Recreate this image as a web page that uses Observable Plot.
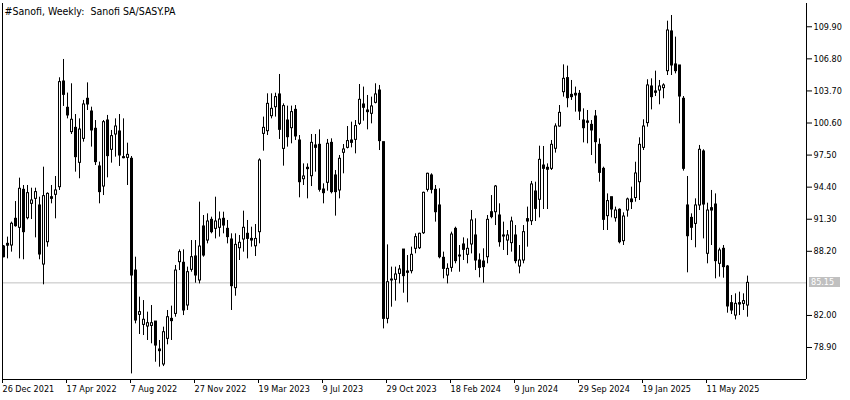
<!DOCTYPE html>
<html><head><meta charset="utf-8">
<script src="https://cdn.jsdelivr.net/npm/d3@7"></script>
<script src="https://cdn.jsdelivr.net/npm/@observablehq/plot@0.6"></script>
<style>
html,body{margin:0;padding:0;background:#fff;}
#chart svg{display:block;}
</style></head><body><div id="chart"></div>
<script>
const title = "#Sanofi, Weekly:  Sanofi SA/SASY.PA";

// weekly candles, first week = 26 Dec 2021
const opens = [
88.66,88.74,88.76,91.34,90.47,94.14,91.40,92.79,93.27,92.63,86.92,89.08,93.43,93.66,94.40,104.61,102.07,99.72,100.13,96.75,
99.07,102.94,101.71,100.04,96.40,94.46,100.84,98.01,99.49,99.78,97.30,97.23,97.14,86.34,82.06,81.09,80.93,80.99,81.41,78.71,
77.26,79.74,81.67,82.15,87.15,87.09,82.96,86.41,87.70,85.38,90.60,89.24,91.24,90.37,90.47,91.34,90.37,89.34,84.64,88.50,
89.34,89.89,89.40,88.69,90.05,99.55,99.81,101.26,102.13,103.36,98.10,100.84,100.10,101.87,98.91,95.17,96.27,95.46,98.43,98.49,
94.17,94.82,98.68,95.53,94.08,97.72,98.20,98.91,98.97,100.52,102.39,101.81,101.49,102.55,103.74,98.75,81.67,85.38,85.44,86.02,
88.37,86.12,86.28,88.44,88.50,89.95,94.14,95.53,94.14,92.63,87.57,85.86,86.60,90.37,87.79,88.86,87.86,88.86,89.73,87.31,
87.21,87.63,91.98,91.98,91.66,89.73,89.24,88.99,89.73,86.73,87.31,91.31,91.11,93.98,93.18,96.49,96.08,96.17,98.11,100.26,
103.58,104.94,103.10,103.42,103.42,100.84,100.75,100.42,101.23,98.49,96.17,91.60,93.43,91.40,92.21,89.18,92.14,93.21,93.35,94.88,
98.20,100.59,104.13,103.65,103.74,103.97,105.61,109.45,106.26,106.16,102.94,92.63,91.43,90.85,92.63,97.85,87.96,92.37,92.72,86.99,
88.44,86.73,83.19,81.99,83.06,83.12,82.96];
const highs = [
88.76,89.57,91.02,93.01,95.27,94.56,94.56,94.30,94.30,93.43,96.33,93.85,94.56,95.43,104.97,106.74,103.49,104.39,101.42,101.00,
102.78,104.48,102.13,100.84,96.82,100.84,101.33,99.88,101.00,101.42,101.00,98.65,97.36,87.63,83.77,83.44,82.32,82.96,81.41,79.58,
80.87,82.48,82.90,86.83,88.34,88.34,86.67,89.24,89.24,92.95,91.66,91.82,91.50,93.43,92.00,91.98,91.18,89.89,89.89,89.73,
92.08,91.18,90.53,90.79,97.14,101.17,103.42,103.42,103.48,105.29,102.45,102.23,102.23,102.29,99.39,96.65,96.65,99.49,99.49,99.94,
94.72,99.01,99.07,96.01,97.46,98.52,100.26,100.68,100.84,104.32,104.07,103.26,103.10,104.39,104.23,98.75,88.82,86.67,86.67,86.83,
88.37,87.79,88.60,89.89,89.95,93.92,95.75,95.69,94.56,94.24,88.12,86.99,90.05,90.53,88.76,89.50,89.40,92.14,91.34,87.95,
88.44,91.66,93.59,94.56,92.79,91.02,90.21,91.50,90.69,88.76,90.69,92.47,94.95,94.88,98.36,98.33,96.65,98.91,100.52,102.29,
106.22,106.10,104.71,104.07,103.74,101.97,101.81,100.84,101.81,99.07,96.33,93.75,93.43,92.47,92.30,91.92,93.34,94.40,96.81,99.17,
100.91,104.78,104.87,105.61,104.71,104.39,110.44,110.99,108.90,106.16,103.16,95.43,91.82,93.27,98.43,98.01,92.85,94.08,93.75,88.50,
88.76,86.83,83.93,84.09,84.25,84.09,85.80];
const lows = [
87.57,87.47,88.12,90.53,87.47,87.38,91.24,91.27,89.50,87.38,84.96,88.60,92.79,91.34,94.08,102.20,101.00,99.49,95.85,95.21,
98.75,101.81,98.27,96.49,92.79,93.59,95.30,96.72,97.30,96.40,97.14,94.56,76.35,81.19,80.16,80.06,79.58,79.26,77.48,77.00,
77.06,79.16,79.58,81.83,86.34,81.99,82.48,86.18,85.12,85.05,87.63,88.92,89.89,89.40,89.57,89.89,88.92,82.48,83.86,87.31,
88.12,87.47,88.60,87.70,88.92,97.88,99.39,101.00,101.17,99.01,96.43,98.27,98.59,98.91,93.37,94.56,93.27,94.46,95.85,93.92,
92.79,94.01,93.75,91.60,93.27,95.69,98.10,98.20,97.62,100.36,100.78,99.94,100.52,102.45,97.94,80.70,81.19,82.80,83.38,85.05,
84.15,83.22,86.02,87.96,88.37,89.83,93.92,93.75,91.02,87.47,85.54,85.05,86.18,86.99,86.18,87.31,86.99,87.95,86.34,85.64,
85.12,86.99,91.34,90.69,88.60,88.28,87.79,88.12,86.99,86.02,86.99,88.60,90.69,91.08,91.43,92.24,92.24,96.01,97.69,100.20,
103.10,102.07,102.78,101.65,100.84,98.68,98.59,97.46,96.65,94.88,90.21,90.21,91.43,91.02,88.92,88.76,91.50,92.24,92.95,93.11,
97.94,100.20,101.87,103.16,102.36,102.94,105.19,105.19,105.35,100.52,95.95,86.12,89.24,88.54,92.14,89.40,86.99,88.76,85.54,85.70,
85.60,82.22,82.09,81.57,81.99,82.48,81.83];
const closes = [
87.63,88.92,90.86,90.63,94.24,90.05,93.82,93.11,93.92,87.89,93.53,93.75,93.27,94.08,104.55,103.32,101.33,100.91,97.30,99.97,
102.39,102.39,99.88,96.82,93.92,100.68,97.40,99.33,100.26,97.46,97.20,97.52,85.86,81.51,82.32,81.58,81.25,81.25,79.09,78.55,
80.38,81.83,81.45,86.34,88.12,82.48,86.18,87.63,85.86,88.66,87.79,91.08,90.05,91.08,91.27,90.69,89.57,84.83,88.82,89.02,
90.47,89.40,89.24,89.40,96.98,100.13,102.45,101.97,103.10,99.94,102.23,99.23,101.65,99.30,94.88,95.43,96.14,98.68,98.20,94.14,
93.82,98.59,93.92,93.92,97.14,98.04,98.85,98.68,100.30,102.84,102.07,101.65,102.20,103.36,98.85,81.67,85.21,85.47,85.96,86.44,
85.80,86.25,87.86,89.57,89.89,93.85,95.69,94.14,91.98,87.63,86.50,86.50,89.82,87.25,87.70,88.34,88.44,91.18,87.31,86.60,
86.67,91.24,91.50,94.46,89.08,89.63,89.73,91.08,87.25,87.31,90.05,91.08,94.66,92.30,97.04,96.17,96.27,98.49,100.26,101.58,
104.87,103.00,103.32,103.26,101.71,100.10,100.62,99.88,98.75,95.78,91.24,93.05,92.24,92.14,89.08,91.56,93.21,92.95,95.72,98.49,
100.26,104.23,103.10,103.52,104.13,104.23,109.54,106.16,105.61,103.16,96.17,89.66,90.47,92.63,98.01,92.72,92.14,92.14,87.25,88.28,
86.67,82.87,82.48,83.12,83.19,83.38,85.15];

const xTickIndex = [0,16,32,48,64,80,96,112,128,144,160,176];
const xTickLabels = ["26 Dec 2021","17 Apr 2022","7 Aug 2022","27 Nov 2022","19 Mar 2023","9 Jul 2023",
  "29 Oct 2023","18 Feb 2024","9 Jun 2024","29 Sep 2024","19 Jan 2025","11 May 2025"];
const yTicks = [78.9, 82.0, 88.2, 91.3, 94.4, 97.5, 100.6, 103.7, 106.8, 109.9];
const xDomain = [-0.25, 200.75];
const yDomain = [75.81, 112.15];

const candles = opens.map((o, i) => ({
  i, open: o, high: highs[i], low: lows[i], close: closes[i],
  top: Math.max(o, closes[i]), bottom: Math.min(o, closes[i]), up: closes[i] >= o
}));
const hollow = candles.filter(d => d.up && d.top - d.bottom > 0.25);
const last = closes[closes.length - 1];
const font = '"DejaVu Sans Condensed","DejaVu Sans",sans-serif';

function priceLabel(index, scales, values, dimensions) {
  const y = Math.round(scales.y(last));
  const x0 = dimensions.width - dimensions.marginRight;
  const g = d3.create("svg:g");
  g.append("rect").attr("x", x0 + 3).attr("y", y - 5).attr("width", 31).attr("height", 10).attr("fill", "#c0c0c0");
  g.append("text").attr("x", x0 + 5).attr("y", y).attr("dy", "0.35em").attr("fill", "white")
    .attr("text-anchor", "start").attr("font-size", 9).attr("font-family", font)
    .text(d3.format(".2f")(last));
  return g.node();
}

const chart = Plot.plot({
  width: 850, height: 400,
  marginLeft: 2, marginRight: 44, marginTop: 3, marginBottom: 21,
  style: {fontFamily: font, fontSize: "9px", color: "black", background: "white"},
  x: {type: "linear", domain: xDomain, label: null},
  y: {domain: yDomain, label: null},
  marks: [
    Plot.ruleY([last], {stroke: "#c0c0c0"}),
    Plot.ruleX(candles, {x: "i", y1: "high", y2: "low", stroke: "black", strokeWidth: 1}),
    Plot.ruleX(candles, {x: "i", y1: "top", y2: "bottom", stroke: "black", strokeWidth: 3,
      insetTop: -0.5, insetBottom: -0.5}),
    Plot.ruleX(hollow, {x: "i", y1: "top", y2: "bottom", stroke: "white", strokeWidth: 1,
      insetTop: 0.5, insetBottom: 0.5}),
    Plot.ruleX(xDomain, {stroke: "black"}),
    Plot.ruleY([yDomain[0]], {stroke: "black"}),
    Plot.axisY({ticks: yTicks, anchor: "right", tickSize: 5, tickPadding: 2, tickFormat: d3.format(".2f"), fontSize: 9, label: null}),
    Plot.axisX({ticks: xTickIndex, anchor: "bottom", tickSize: 4, tickPadding: 2, textAnchor: "start", dx: -1,
      tickFormat: d => xTickLabels[xTickIndex.indexOf(d)], fontSize: 9, label: null}),
    Plot.text([title], {frameAnchor: "top-left", dx: 2, dy: 4, lineAnchor: "top", textAnchor: "start",
      fontSize: 10.5, fill: "black", style: "white-space: pre"}),
    priceLabel
  ]
});
chart.querySelectorAll("text").forEach(t => t.setAttribute("xml:space", "preserve"));
document.getElementById("chart").appendChild(chart);
</script>
</body></html>
